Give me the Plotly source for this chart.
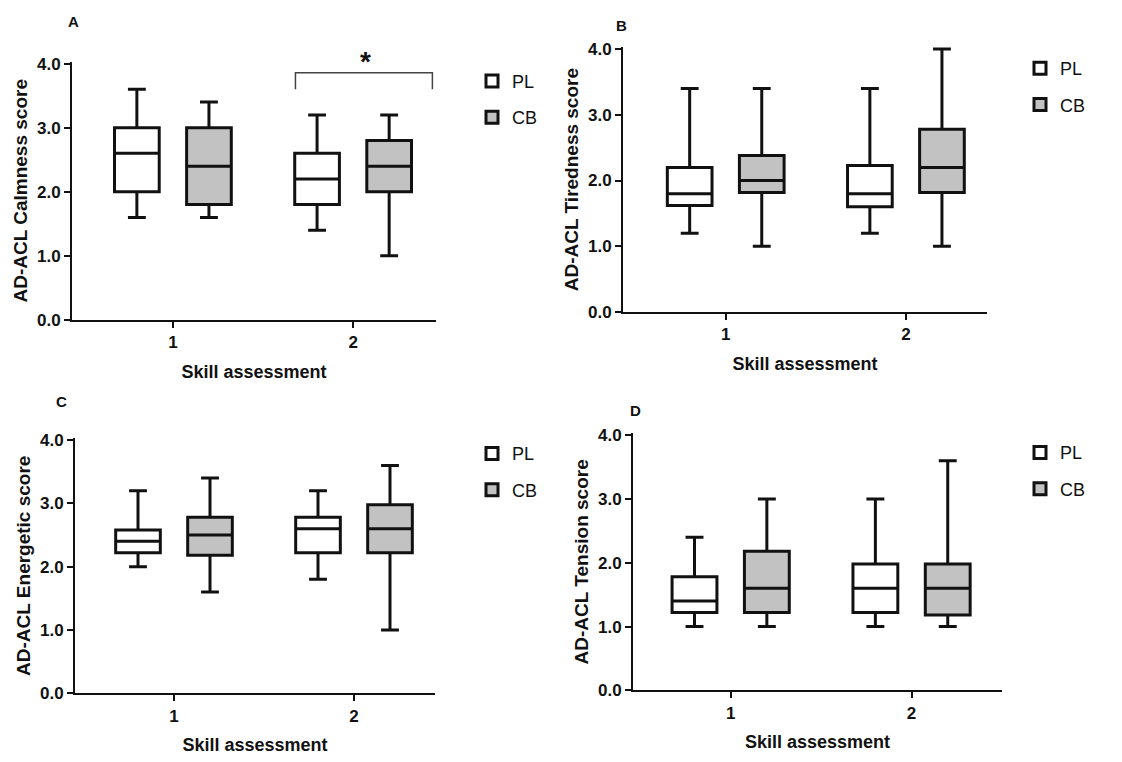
import plotly.graph_objects as go

# Skill assessment sessions
sessions = [1, 2]
session_labels = ["1", "2"]

# Box statistics (lower whisker, Q1, median, Q3, upper whisker) per session
# A: Calmness
calm_pl_low = [1.6, 1.4]
calm_pl_q1 = [2.0, 1.8]
calm_pl_med = [2.6, 2.2]
calm_pl_q3 = [3.0, 2.6]
calm_pl_high = [3.6, 3.2]
calm_cb_low = [1.6, 1.0]
calm_cb_q1 = [1.8, 2.0]
calm_cb_med = [2.4, 2.4]
calm_cb_q3 = [3.0, 2.8]
calm_cb_high = [3.4, 3.2]

# B: Tiredness
tired_pl_low = [1.2, 1.2]
tired_pl_q1 = [1.62, 1.6]
tired_pl_med = [1.8, 1.8]
tired_pl_q3 = [2.2, 2.23]
tired_pl_high = [3.4, 3.4]
tired_cb_low = [1.0, 1.0]
tired_cb_q1 = [1.82, 1.82]
tired_cb_med = [2.0, 2.2]
tired_cb_q3 = [2.38, 2.78]
tired_cb_high = [3.4, 4.0]

# C: Energetic
energ_pl_low = [2.0, 1.8]
energ_pl_q1 = [2.22, 2.22]
energ_pl_med = [2.4, 2.6]
energ_pl_q3 = [2.58, 2.78]
energ_pl_high = [3.2, 3.2]
energ_cb_low = [1.6, 1.0]
energ_cb_q1 = [2.18, 2.22]
energ_cb_med = [2.5, 2.6]
energ_cb_q3 = [2.78, 2.98]
energ_cb_high = [3.4, 3.6]

# D: Tension
tens_pl_low = [1.0, 1.0]
tens_pl_q1 = [1.22, 1.22]
tens_pl_med = [1.4, 1.6]
tens_pl_q3 = [1.78, 1.98]
tens_pl_high = [2.4, 3.0]
tens_cb_low = [1.0, 1.0]
tens_cb_q1 = [1.22, 1.18]
tens_cb_med = [1.6, 1.6]
tens_cb_q3 = [2.18, 1.98]
tens_cb_high = [3.0, 3.6]

y_ticks = [0, 1, 2, 3, 4]
y_tick_labels = ["0.0", "1.0", "2.0", "3.0", "4.0"]

groups = ["PL", "CB"]

panels = [
    dict(letter="A", title="AD-ACL Calmness score",
         PL=(calm_pl_low, calm_pl_q1, calm_pl_med, calm_pl_q3, calm_pl_high),
         CB=(calm_cb_low, calm_cb_q1, calm_cb_med, calm_cb_q3, calm_cb_high),
         xdom=(72, 436), xrange=(0.44, 2.46), ydom=(56, 320),
         legend=(472, 57), letter_pos=(73, 15)),
    dict(letter="B", title="AD-ACL Tiredness score",
         PL=(tired_pl_low, tired_pl_q1, tired_pl_med, tired_pl_q3, tired_pl_high),
         CB=(tired_cb_low, tired_cb_q1, tired_cb_med, tired_cb_q3, tired_cb_high),
         xdom=(623, 987), xrange=(0.43, 2.45), ydom=(41, 312),
         legend=(1020, 44), letter_pos=(621, 19)),
    dict(letter="C", title="AD-ACL Energetic score",
         PL=(energ_pl_low, energ_pl_q1, energ_pl_med, energ_pl_q3, energ_pl_high),
         CB=(energ_cb_low, energ_cb_q1, energ_cb_med, energ_cb_q3, energ_cb_high),
         xdom=(75, 435), xrange=(0.45, 2.45), ydom=(441, 702),
         legend=(472, 438), letter_pos=(61, 404)),
    dict(letter="D", title="AD-ACL Tension score",
         PL=(tens_pl_low, tens_pl_q1, tens_pl_med, tens_pl_q3, tens_pl_high),
         CB=(tens_cb_low, tens_cb_q1, tens_cb_med, tens_cb_q3, tens_cb_high),
         xdom=(633, 1002), xrange=(0.46, 2.5), ydom=(436, 699),
         legend=(1020, 437), letter_pos=(635, 413)),
]

W, H = 1122, 762
FONT = "Liberation Sans, Arial, Helvetica, sans-serif"
INK = "#111111"

# box interiors: plain white for PL, stippled grey for CB
fill_style = {
    "PL": dict(color="#ffffff"),
    "CB": dict(color="#d4d4d4",
               pattern=dict(shape=".", fgcolor="#6e6e6e", bgcolor="#d4d4d4",
                            size=4, solidity=0.35, fillmode="replace")),
}
legend_fill = {"PL": "#ffffff", "CB": "#c2c2c2"}

fig = go.Figure()
layout = dict(
    width=W, height=H,
    margin=dict(l=0, r=0, t=0, b=0),
    paper_bgcolor="white", plot_bgcolor="white",
    boxmode="group", boxgap=0.2, boxgroupgap=0.38,
    barmode="group", bargap=0.2, bargroupgap=0.38,
    font=dict(family=FONT, color=INK),
    annotations=[], shapes=[],
)

for i, p in enumerate(panels):
    n = "" if i == 0 else str(i + 1)
    leg = "legend" + n
    xa, ya = "x" + n, "y" + n
    align = "panel" + p["letter"]

    # interquartile fill (drawn underneath the box outlines)
    for g in groups:
        low, q1, med, q3, high = p[g]
        fig.add_trace(go.Bar(
            x=sessions, y=[b - a for a, b in zip(q1, q3)], base=q1,
            marker=dict(line=dict(width=0), **fill_style[g]),
            alignmentgroup=align, offsetgroup=g,
            showlegend=False, hoverinfo="skip",
            xaxis=xa, yaxis=ya,
        ))

    for g in groups:
        low, q1, med, q3, high = p[g]
        fig.add_trace(go.Box(
            x=sessions, lowerfence=low, q1=q1, median=med, q3=q3, upperfence=high,
            name=g, legendgroup=g, legend=leg,
            alignmentgroup=align, offsetgroup=g,
            fillcolor="rgba(0,0,0,0)",
            line=dict(color=INK, width=3),
            whiskerwidth=0.4, boxpoints=False,
            xaxis=xa, yaxis=ya,
        ))

    x0, x1 = p["xdom"]
    ytop, ybot = p["ydom"]
    layout["xaxis" + n] = dict(
        domain=[x0 / W, x1 / W], anchor=ya,
        range=list(p["xrange"]), tickvals=sessions, ticktext=session_labels,
        showline=True, linecolor=INK, linewidth=2,
        ticks="outside", ticklen=6, tickwidth=2, tickcolor=INK,
        tickfont=dict(size=17, weight="bold"),
        showgrid=False, zeroline=False,
        title=dict(text="Skill assessment", standoff=14,
                   font=dict(size=18, weight="bold")),
    )
    layout["yaxis" + n] = dict(
        domain=[1 - ybot / H, 1 - ytop / H], anchor=xa,
        range=[0, 4.03], tickvals=y_ticks, ticktext=y_tick_labels,
        showline=True, linecolor=INK, linewidth=2,
        ticks="outside", ticklen=6, tickwidth=2, tickcolor=INK,
        tickfont=dict(size=17, weight="bold"),
        showgrid=False, zeroline=False,
        title=dict(text=p["title"], standoff=4,
                   font=dict(size=19, weight="bold")),
    )
    lx, ly = p["legend"]
    layout[leg] = dict(
        x=lx / W, y=1 - ly / H, xanchor="left", yanchor="top",
        xref="paper", yref="paper",
        font=dict(size=18, color=INK),
        bgcolor="rgba(0,0,0,0)", tracegroupgap=10, itemwidth=30,
    )
    px_, py_ = p["letter_pos"]
    layout["annotations"].append(dict(
        text=p["letter"], x=px_ / W, y=1 - py_ / H, xref="paper", yref="paper",
        showarrow=False, font=dict(size=15, weight="bold"),
        xanchor="center", yanchor="middle",
    ))

fig.update_layout(**layout)

# legend swatches follow the box fills
for tr in fig.data:
    if tr.type == "box":
        tr.fillcolor = legend_fill[tr.name]

# significance bracket over session 2 in panel A
fig.add_shape(
    type="path", xref="x", yref="y",
    path="M 1.68,3.6 L 1.68,3.86 L 2.44,3.86 L 2.44,3.6",
    line=dict(color="#444444", width=1.5),
)
fig.add_annotation(
    text="*", x=2.07, y=1.0, xref="x", yref="y domain", showarrow=False,
    font=dict(size=28, weight="bold"), xanchor="center", yanchor="middle",
)

fig.write_html("out.html")
